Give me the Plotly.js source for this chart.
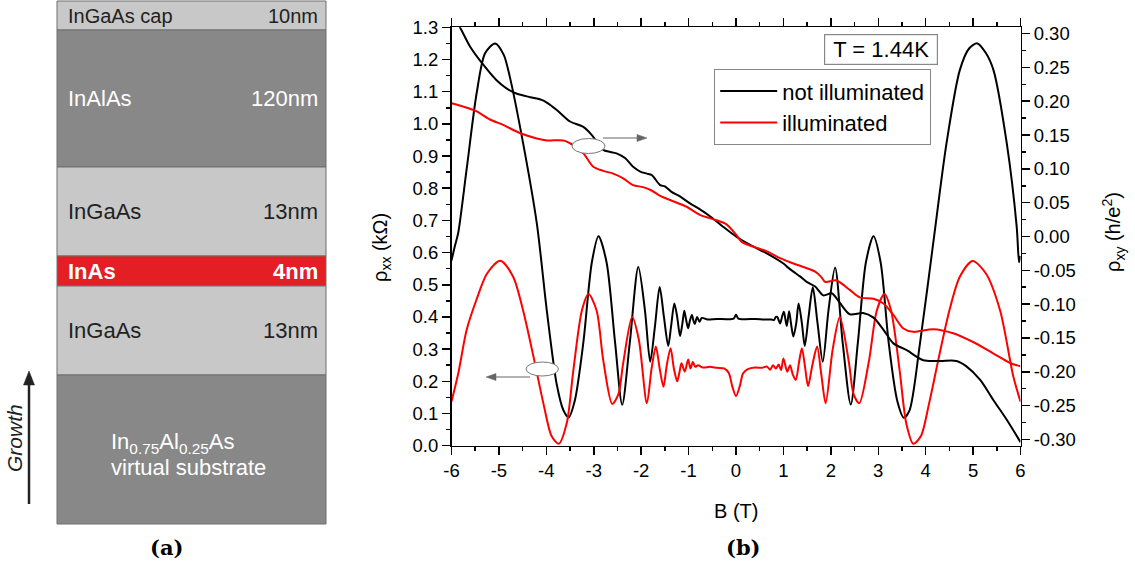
<!DOCTYPE html>
<html>
<head>
<meta charset="utf-8">
<script src="https://cdn.plot.ly/plotly-3.0.1.min.js"></script>
<style>html,body{margin:0;padding:0;background:#fff;}#chart{width:1135px;height:574px;}</style>
</head>
<body>
<div id="chart"></div>
<script>
// ---------------- DATA ----------------
// (a) layer stack, top to bottom
const layerNames = ['InGaAs cap', 'InAlAs', 'InGaAs', 'InAs', 'InGaAs', 'In<sub>0.75</sub>Al<sub>0.25</sub>As'];
const layerThickness = ['10nm', '120nm', '13nm', '4nm', '13nm', ''];
const substrateNote = 'virtual substrate';

// (b) rho_xx, not illuminated
const bXxDark = [-6.00,-5.93,-5.86,-5.68,-5.47,-5.29,-5.08,-4.90,-4.77,-4.49,-4.20,-3.99,-3.78,-3.64,-3.53,-3.40,-3.22,-3.04,-2.90,-2.73,-2.55,-2.40,-2.24,-2.06,-1.92,-1.81,-1.71,-1.61,-1.52,-1.43,-1.37,-1.30,-1.24,-1.18,-1.13,-1.09,-1.05,-1.01,-0.97,-0.93,-0.90,-0.87,-0.82,-0.77,-0.72,-0.60,-0.40,-0.20,-0.05,0.00,0.05,0.20,0.40,0.60,0.75,0.80,0.84,0.87,0.93,0.97,1.01,1.07,1.12,1.16,1.21,1.27,1.32,1.39,1.45,1.53,1.62,1.72,1.83,1.95,2.09,2.25,2.42,2.57,2.74,2.90,3.05,3.22,3.40,3.54,3.66,3.88,4.16,4.44,4.72,4.92,5.09,5.27,5.43,5.71,5.92,5.97,6.00];
const rhoXxDark = [0.575,0.62,0.66,0.86,1.095,1.22,1.25,1.215,1.146,0.94,0.69,0.42,0.19,0.11,0.088,0.14,0.32,0.57,0.651,0.57,0.32,0.127,0.32,0.555,0.42,0.261,0.37,0.493,0.40,0.31,0.37,0.442,0.40,0.341,0.38,0.419,0.39,0.365,0.39,0.406,0.39,0.378,0.40,0.385,0.397,0.392,0.394,0.393,0.395,0.407,0.395,0.393,0.394,0.392,0.392,0.39,0.40,0.40,0.38,0.40,0.416,0.372,0.418,0.38,0.339,0.38,0.442,0.38,0.31,0.40,0.492,0.38,0.261,0.42,0.554,0.32,0.128,0.32,0.57,0.651,0.57,0.32,0.14,0.087,0.11,0.318,0.63,0.94,1.167,1.235,1.25,1.22,1.167,0.94,0.68,0.57,0.59];

// (b) rho_xx, illuminated
const bXxLit = [-6.00,-5.85,-5.68,-5.47,-5.25,-4.97,-4.70,-4.49,-4.27,-4.06,-3.89,-3.74,-3.57,-3.43,-3.25,-3.11,-2.94,-2.80,-2.61,-2.48,-2.38,-2.19,-2.05,-1.88,-1.78,-1.69,-1.61,-1.53,-1.46,-1.38,-1.31,-1.24,-1.19,-1.15,-1.08,-1.01,-0.96,-0.91,-0.86,-0.80,-0.70,-0.55,-0.40,-0.25,-0.15,-0.08,0.00,0.08,0.15,0.25,0.40,0.55,0.65,0.72,0.78,0.84,0.90,0.95,1.00,1.08,1.14,1.20,1.26,1.33,1.39,1.46,1.52,1.61,1.71,1.80,1.89,2.04,2.19,2.38,2.48,2.60,2.80,2.97,3.13,3.27,3.45,3.59,3.74,3.90,4.07,4.28,4.50,4.72,4.99,5.27,5.57,5.85,6.00];
const rhoXxLit = [0.137,0.23,0.36,0.455,0.535,0.575,0.525,0.42,0.276,0.13,0.03,0.006,0.07,0.235,0.42,0.471,0.42,0.266,0.13,0.16,0.256,0.40,0.33,0.132,0.24,0.308,0.24,0.183,0.25,0.303,0.24,0.20,0.23,0.256,0.23,0.268,0.24,0.26,0.245,0.25,0.243,0.245,0.242,0.24,0.225,0.185,0.154,0.185,0.225,0.238,0.243,0.242,0.246,0.236,0.25,0.24,0.252,0.235,0.271,0.23,0.25,0.22,0.204,0.26,0.303,0.24,0.185,0.25,0.308,0.22,0.132,0.30,0.40,0.26,0.16,0.132,0.26,0.42,0.471,0.42,0.235,0.07,0.006,0.03,0.13,0.276,0.42,0.525,0.574,0.535,0.42,0.214,0.137];

// (b) rho_xy, not illuminated
const bXyDark = [-6.00,-5.82,-5.61,-5.33,-5.05,-4.84,-4.62,-4.34,-4.10,-3.99,-3.78,-3.50,-3.22,-3.04,-2.80,-2.52,-2.34,-2.17,-2.02,-1.88,-1.78,-1.60,-1.50,-1.36,-1.20,-0.97,-0.76,-0.55,-0.30,0.00,0.29,0.65,1.00,1.10,1.21,1.35,1.49,1.67,1.84,2.02,2.19,2.40,2.68,2.90,3.11,3.32,3.60,3.95,4.30,4.65,4.86,5.15,5.43,5.71,6.00];
const rhoXyDark = [0.33,0.309,0.281,0.254,0.231,0.219,0.211,0.206,0.202,0.198,0.187,0.17,0.162,0.15,0.128,0.123,0.116,0.103,0.096,0.093,0.091,0.076,0.074,0.066,0.060,0.049,0.040,0.030,0.016,0.000,-0.012,-0.025,-0.040,-0.046,-0.052,-0.059,-0.067,-0.074,-0.087,-0.084,-0.098,-0.115,-0.113,-0.120,-0.138,-0.158,-0.168,-0.183,-0.184,-0.184,-0.192,-0.212,-0.242,-0.271,-0.304];

// (b) rho_xy, illuminated
const bXyLit = [-6.00,-5.75,-5.47,-5.19,-4.91,-4.56,-4.20,-3.99,-3.64,-3.43,-3.22,-3.01,-2.80,-2.59,-2.38,-2.17,-1.96,-1.78,-1.60,-1.39,-1.04,-0.76,-0.41,-0.20,0.00,0.12,0.36,0.65,0.93,1.21,1.42,1.67,1.80,1.88,2.12,2.40,2.61,2.90,3.11,3.32,3.53,3.74,4.16,4.58,5.00,5.43,5.78,6.00];
const rhoXyLit = [0.197,0.192,0.185,0.173,0.165,0.153,0.145,0.142,0.142,0.135,0.123,0.103,0.097,0.093,0.086,0.076,0.073,0.068,0.060,0.054,0.044,0.032,0.024,0.018,0.003,-0.008,-0.015,-0.022,-0.032,-0.040,-0.045,-0.052,-0.060,-0.067,-0.065,-0.079,-0.090,-0.092,-0.099,-0.116,-0.136,-0.141,-0.137,-0.143,-0.156,-0.173,-0.187,-0.192];

const xTickVals = [-6,-5,-4,-3,-2,-1,0,1,2,3,4,5,6];
const xTickText = ['-6','-5','-4','-3','-2','-1','0','1','2','3','4','5','6'];
const yTickVals = [0,0.1,0.2,0.3,0.4,0.5,0.6,0.7,0.8,0.9,1.0,1.1,1.2,1.3];
const yTickText = ['0.0','0.1','0.2','0.3','0.4','0.5','0.6','0.7','0.8','0.9','1.0','1.1','1.2','1.3'];
const y2TickVals = [-0.30,-0.25,-0.20,-0.15,-0.10,-0.05,0,0.05,0.10,0.15,0.20,0.25,0.30];
const y2TickText = ['-0.30','-0.25','-0.20','-0.15','-0.10','-0.05','0.00','0.05','0.10','0.15','0.20','0.25','0.30'];

const seriesNames = ['not illuminated', 'illuminated'];

// ---------------- DRAWING ----------------
const W = 1135, H = 574;
const X = p => p / W;
const Y = p => 1 - p / H;
const FONT = 'Liberation Sans, Arial, sans-serif';
const darkCol = '#000000', litCol = '#ff0000';

const traces = [
  {x: bXxDark, y: rhoXxDark, name: seriesNames[0], type: 'scatter', mode: 'lines',
   line: {color: darkCol, width: 2, shape: 'spline', smoothing: 0.8}, xaxis: 'x', yaxis: 'y'},
  {x: bXxLit, y: rhoXxLit, name: seriesNames[1], type: 'scatter', mode: 'lines',
   line: {color: litCol, width: 2, shape: 'spline', smoothing: 0.8}, xaxis: 'x', yaxis: 'y'},
  {x: bXyDark, y: rhoXyDark, name: seriesNames[0], showlegend: false, type: 'scatter', mode: 'lines',
   line: {color: darkCol, width: 2, shape: 'spline', smoothing: 0.8}, xaxis: 'x', yaxis: 'y2'},
  {x: bXyLit, y: rhoXyLit, name: seriesNames[1], showlegend: false, type: 'scatter', mode: 'lines',
   line: {color: litCol, width: 2, shape: 'spline', smoothing: 0.8}, xaxis: 'x', yaxis: 'y2'}
];

// layer stack geometry (pixels)
const layerEdges = [1, 30, 167, 256, 286, 375, 524];
const layerFill = ['#c8c8c8', '#888888', '#c8c8c8', '#e31e24', '#c8c8c8', '#888888'];
const layerText = ['#222222', '#ffffff', '#222222', '#ffffff', '#222222', '#ffffff'];
const layerFont = [20, 22, 22, 22, 22, 22];
const layerBold = [false, false, false, true, false, false];
const boxL = 57, boxR = 326;

const shapes = [];
const annotations = [];
function label(px, py, text, font, extra) {
  annotations.push(Object.assign({xref: 'paper', yref: 'paper', x: X(px), y: Y(py), xanchor: 'center', yanchor: 'middle',
    text: text, showarrow: false, font: font}, extra || {}));
}
function arrow(x0, y0, x1, y1, width, color, headLen, headHalf) {
  const dx = x1 - x0, dy = y1 - y0, L = Math.hypot(dx, dy), ux = dx / L, uy = dy / L;
  const bx = x1 - ux * headLen, by = y1 - uy * headLen;
  shapes.push({type: 'line', xref: 'paper', yref: 'paper', x0: X(x0), y0: Y(y0), x1: X(bx), y1: Y(by),
    line: {color: color, width: width}, layer: 'above'});
  const px = -uy, py = ux;
  const p = 'M' + X(x1) + ',' + Y(y1) + ' L' + X(bx + px * headHalf) + ',' + Y(by + py * headHalf) +
            ' L' + X(bx - px * headHalf) + ',' + Y(by - py * headHalf) + ' Z';
  shapes.push({type: 'path', xref: 'paper', yref: 'paper', path: p, fillcolor: color, line: {color: color, width: 0.5}, layer: 'above'});
}

layerNames.forEach((nm, i) => {
  const y0 = layerEdges[i], y1 = layerEdges[i + 1];
  shapes.push({type: 'rect', xref: 'paper', yref: 'paper', x0: X(boxL), x1: X(boxR), y0: Y(y0), y1: Y(y1),
    fillcolor: layerFill[i], line: {color: '#6f6f6f', width: 1}, layer: 'below'});
  const ym = i === 5 ? 443 : (y0 + y1) / 2;
  const t = layerBold[i] ? '<b>' + nm + '</b>' : nm;
  label(i === 5 ? 109 : 66, ym, t, {family: FONT, size: layerFont[i], color: layerText[i]}, {xanchor: 'left'});
  if (layerThickness[i]) {
    label(320, ym, layerBold[i] ? '<b>' + layerThickness[i] + '</b>' : layerThickness[i],
      {family: FONT, size: layerFont[i], color: layerText[i]}, {xanchor: 'right'});
  }
});
label(109, 467, substrateNote, {family: FONT, size: 22, color: '#ffffff'}, {xanchor: 'left'});
// growth arrow
arrow(29, 504, 29, 371, 2.5, '#222222', 14, 5.5);
label(15, 438, '<i>Growth</i>', {family: FONT, size: 21, color: '#222222'}, {textangle: -90});
// panel labels
label(166, 547, '<b>(a)</b>', {family: 'DejaVu Serif, serif', size: 21, color: '#000'});
label(743, 547, '<b>(b)</b>', {family: 'DejaVu Serif, serif', size: 21, color: '#000'});
// axis titles
label(736, 511, 'B (T)', {family: FONT, size: 20, color: '#000'});
label(381, 248, 'ρ<sub>xx</sub> (kΩ)', {family: FONT, size: 20, color: '#000'}, {textangle: -90});
label(1113, 232, 'ρ<sub>xy</sub> (h/e<sup>2</sup>)', {family: FONT, size: 20, color: '#000'}, {textangle: -90});
// temperature box
label(880.5, 49.5, 'T = 1.44K', {family: FONT, size: 22, color: '#000'},
  {width: 110, height: 27, borderpad: 1, bordercolor: '#888888', borderwidth: 1.2, bgcolor: '#ffffff'});
// ellipses + arrows
shapes.push({type: 'circle', xref: 'paper', yref: 'paper', x0: X(572), x1: X(605), y0: Y(138.5), y1: Y(153.5),
  fillcolor: '#ffffff', line: {color: '#777777', width: 1}, layer: 'above'});
shapes.push({type: 'circle', xref: 'paper', yref: 'paper', x0: X(526), x1: X(558.5), y0: Y(362), y1: Y(376),
  fillcolor: '#ffffff', line: {color: '#777777', width: 1}, layer: 'above'});
arrow(603, 138, 647, 138, 1.2, '#666666', 10, 3.5);
arrow(530, 377, 486, 377, 1.2, '#666666', 10, 3.5);

const axisCommon = {showgrid: false, zeroline: false, showline: true, linecolor: '#000', linewidth: 1.5,
  ticks: 'outside', ticklen: 8, tickwidth: 1.5, tickcolor: '#000', automargin: false,
  tickfont: {family: FONT, size: 18.5, color: '#000'}, tickmode: 'array'};

const layout = {
  width: W, height: H,
  margin: {l: 0, r: 0, t: 0, b: 0},
  paper_bgcolor: '#ffffff', plot_bgcolor: '#ffffff',
  showlegend: true,
  legend: {x: X(714), y: Y(69), xanchor: 'left', yanchor: 'top', bgcolor: '#ffffff', bordercolor: '#888888', borderwidth: 1.2,
    font: {family: FONT, size: 22, color: '#000'}, itemwidth: 57, tracegroupgap: 0},
  xaxis: Object.assign({}, axisCommon, {domain: [X(451.5), X(1020.5)], range: [-6, 6], tickvals: xTickVals, ticktext: xTickText,
    mirror: 'ticks', minor: {ticks: 'outside', ticklen: 4, tickwidth: 1.5, tickcolor: '#000', dtick: 0.5, tick0: 0}}),
  yaxis: Object.assign({}, axisCommon, {domain: [Y(445.7), Y(27.3)], range: [0, 1.3], tickvals: yTickVals, ticktext: yTickText,
    mirror: false, minor: {ticks: 'outside', ticklen: 4, tickwidth: 1.5, tickcolor: '#000', dtick: 0.05, tick0: 0}}),
  yaxis2: Object.assign({}, axisCommon, {overlaying: 'y', side: 'right', range: [-0.3093, 0.3093], tickvals: y2TickVals, ticktext: y2TickText,
    minor: {ticks: 'outside', ticklen: 4, tickwidth: 1.5, tickcolor: '#000', dtick: 0.025, tick0: 0}}),
  shapes: shapes,
  annotations: annotations
};

Plotly.newPlot('chart', traces, layout, {displayModeBar: false, staticPlot: true});
</script>
</body>
</html>
